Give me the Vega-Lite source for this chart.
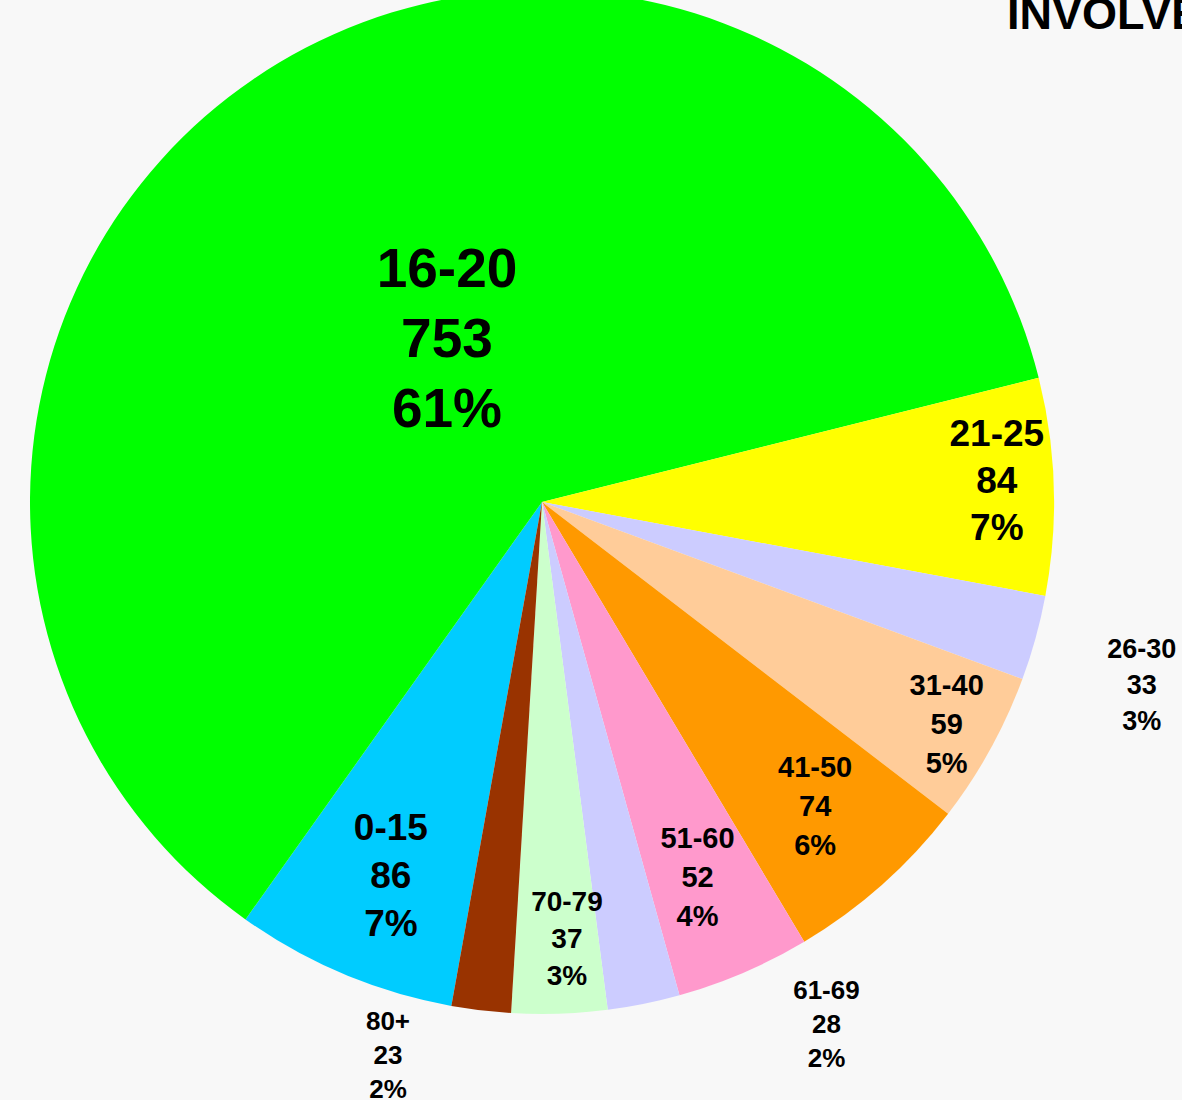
{
  "$schema": "https://vega.github.io/schema/vega-lite/v6.json",
  "width": 1084,
  "height": 1004,
  "autosize": {"type": "none"},
  "padding": {"left": 0, "top": 0, "right": 98, "bottom": 96},
  "background": "#f8f8f8",
  "config": {"view": {"stroke": null}},
  "title": {
    "text": "INVOLVED",
    "anchor": "start",
    "frame": "bounds",
    "orient": "top",
    "offset": 0,
    "baseline": "top",
    "dx": 1007,
    "dy": 81,
    "font": "Liberation Sans",
    "fontSize": 45,
    "fontWeight": "bold",
    "color": "#000000"
  },
  "data": {
    "values": [
      {"age": "0-15", "n": 86, "pct": "7%"},
      {"age": "16-20", "n": 753, "pct": "61%"},
      {"age": "21-25", "n": 84, "pct": "7%"},
      {"age": "26-30", "n": 33, "pct": "3%"},
      {"age": "31-40", "n": 59, "pct": "5%"},
      {"age": "41-50", "n": 74, "pct": "6%"},
      {"age": "51-60", "n": 52, "pct": "4%"},
      {"age": "61-69", "n": 28, "pct": "2%"},
      {"age": "70-79", "n": 37, "pct": "3%"},
      {"age": "80+", "n": 23, "pct": "2%"}
    ]
  },
  "transform": [
    {"calculate": "[datum.age, '' + datum.n, datum.pct]", "as": "label"}
  ],
  "encoding": {
    "theta": {"field": "n", "type": "quantitative", "stack": true, "scale": {"range": [3.3196, 9.6028]}},
    "detail": {"field": "age", "type": "nominal"},
    "order": {"field": "age", "type": "ordinal", "sort": "ascending"}
  },
  "layer": [
    {
      "mark": {"type": "arc", "radius": 512, "strokeWidth": 0},
      "encoding": {
        "color": {
          "field": "age",
          "type": "nominal",
          "legend": null,
          "scale": {
            "domain": ["0-15", "16-20", "21-25", "26-30", "31-40", "41-50", "51-60", "61-69", "70-79", "80+"],
            "range": ["#00ccff", "#00ff00", "#ffff00", "#ccccff", "#ffcc99", "#ff9900", "#ff99cc", "#ccccff", "#ccffcc", "#993300"]
          }
        }
      }
    },
    {
      "mark": {"type": "text", "radius": 188, "dx": 11, "dy": -77, "fontSize": 55, "lineHeight": 70, "font": "Liberation Sans", "fontWeight": "bold", "color": "#000000", "align": "center", "baseline": "middle"},
      "encoding": {"text": {"condition": {"test": "datum.age === '16-20'", "field": "label", "type": "nominal"}, "value": ""}}
    },
    {
      "mark": {"type": "text", "radius": 455, "dx": 0, "dy": -53, "fontSize": 37, "lineHeight": 47, "font": "Liberation Sans", "fontWeight": "bold", "color": "#000000", "align": "center", "baseline": "middle"},
      "encoding": {"text": {"condition": {"test": "datum.age === '21-25'", "field": "label", "type": "nominal"}, "value": ""}}
    },
    {
      "mark": {"type": "text", "radius": 403, "dx": 5, "dy": -45, "fontSize": 37, "lineHeight": 48, "font": "Liberation Sans", "fontWeight": "bold", "color": "#000000", "align": "center", "baseline": "middle"},
      "encoding": {"text": {"condition": {"test": "datum.age === '0-15'", "field": "label", "type": "nominal"}, "value": ""}}
    },
    {
      "mark": {"type": "text", "radius": 461, "dx": 1, "dy": -39, "fontSize": 29, "lineHeight": 39, "font": "Liberation Sans", "fontWeight": "bold", "color": "#000000", "align": "center", "baseline": "middle"},
      "encoding": {"text": {"condition": {"test": "datum.age === '31-40'", "field": "label", "type": "nominal"}, "value": ""}}
    },
    {
      "mark": {"type": "text", "radius": 408, "dx": 2, "dy": -39, "fontSize": 29, "lineHeight": 39, "font": "Liberation Sans", "fontWeight": "bold", "color": "#000000", "align": "center", "baseline": "middle"},
      "encoding": {"text": {"condition": {"test": "datum.age === '41-50'", "field": "label", "type": "nominal"}, "value": ""}}
    },
    {
      "mark": {"type": "text", "radius": 405, "dx": -4, "dy": -35, "fontSize": 29, "lineHeight": 39, "font": "Liberation Sans", "fontWeight": "bold", "color": "#000000", "align": "center", "baseline": "middle"},
      "encoding": {"text": {"condition": {"test": "datum.age === '51-60'", "field": "label", "type": "nominal"}, "value": ""}}
    },
    {
      "mark": {"type": "text", "radius": 438, "dx": 10, "dy": -37, "fontSize": 28, "lineHeight": 37, "font": "Liberation Sans", "fontWeight": "bold", "color": "#000000", "align": "center", "baseline": "middle"},
      "encoding": {"text": {"condition": {"test": "datum.age === '70-79'", "field": "label", "type": "nominal"}, "value": ""}}
    },
    {
      "mark": {"type": "text", "radius": 622, "dx": 0, "dy": -17, "fontSize": 27, "lineHeight": 36, "font": "Liberation Sans", "fontWeight": "bold", "color": "#000000", "align": "center", "baseline": "middle"},
      "encoding": {"text": {"condition": {"test": "datum.age === '26-30'", "field": "label", "type": "nominal"}, "value": ""}}
    },
    {
      "mark": {"type": "text", "radius": 530, "dx": 179, "dy": -30, "fontSize": 26, "lineHeight": 34, "font": "Liberation Sans", "fontWeight": "bold", "color": "#000000", "align": "center", "baseline": "middle"},
      "encoding": {"text": {"condition": {"test": "datum.age === '61-69'", "field": "label", "type": "nominal"}, "value": ""}}
    },
    {
      "mark": {"type": "text", "radius": 555, "dx": -88, "dy": -31, "fontSize": 26, "lineHeight": 34, "font": "Liberation Sans", "fontWeight": "bold", "color": "#000000", "align": "center", "baseline": "middle"},
      "encoding": {"text": {"condition": {"test": "datum.age === '80+'", "field": "label", "type": "nominal"}, "value": ""}}
    }
  ]
}
